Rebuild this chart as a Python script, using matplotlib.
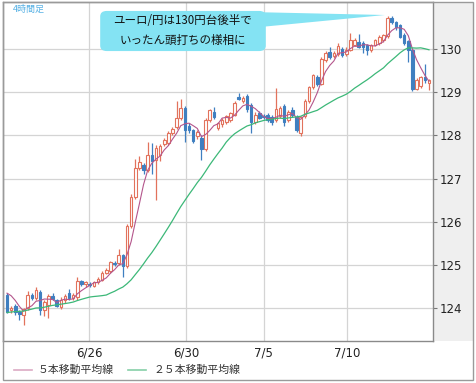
import matplotlib.pyplot as plt
import numpy as np
import pandas as pd
from matplotlib.patches import Rectangle, FancyBboxPatch, Polygon
from matplotlib.lines import Line2D

plt.rcParams['font.family'] = ['Noto Sans CJK JP', 'DejaVu Sans']

# 4-hour candles (open, high, low, close)
opens = [124.30, 123.95, 124.05, 123.90, 123.84, 124.00, 124.30, 124.24, 124.38, 123.95,
         124.08, 124.28, 124.20, 124.02, 124.18, 124.34, 124.24, 124.25, 124.62, 124.55,
         124.56, 124.52, 124.60, 124.66, 124.82, 124.86, 125.05, 125.04, 125.22, 124.98,
         125.90, 126.58, 127.25, 127.32, 127.20, 127.55, 127.42, 127.55, 127.80, 127.82,
         128.05, 128.20, 128.40, 128.63, 128.22, 128.12, 127.98, 127.94, 127.68, 128.36,
         128.55, 128.18, 128.26, 128.30, 128.36, 128.48, 128.90, 128.80, 128.92, 128.70,
         128.32, 128.52, 128.44, 128.47, 128.43, 128.36, 128.44, 128.68, 128.36, 128.60,
         128.43, 128.05, 128.45, 128.80, 129.12, 129.36, 129.20, 129.75, 129.94, 129.84,
         129.88, 130.00, 129.88, 129.98, 130.10, 130.16, 130.14, 130.09, 129.98, 130.10,
         130.14, 130.20, 130.30, 130.72, 130.62, 130.55, 130.32, 130.18, 129.98, 129.08,
         129.15, 129.35, 129.22]
highs = [124.35, 124.05, 124.10, 123.95, 124.00, 124.40, 124.36, 124.48, 124.42, 124.20,
         124.32, 124.34, 124.22, 124.25, 124.32, 124.45, 124.34, 124.72, 124.66, 124.64,
         124.60, 124.64, 124.72, 124.85, 124.92, 125.10, 125.10, 125.38, 125.26, 125.95,
         126.65, 127.45, 127.52, 127.36, 127.85, 127.82, 127.78, 127.80, 127.95, 128.10,
         128.20, 128.80, 128.85, 128.68, 128.28, 128.15, 128.12, 128.00, 128.40, 128.62,
         128.65, 128.30, 128.40, 128.48, 128.55, 128.80, 128.98, 128.92, 128.96, 128.75,
         128.55, 128.56, 128.50, 128.52, 128.48, 129.10, 128.68, 128.72, 128.58, 128.66,
         128.48, 128.46, 128.85, 129.15, 129.42, 129.40, 129.82, 129.95, 130.05, 129.96,
         130.15, 130.04, 130.04, 130.37, 130.26, 130.35, 130.18, 130.12, 130.12, 130.24,
         130.32, 130.36, 130.77, 130.76, 130.66, 130.58, 130.38, 130.22, 130.02, 129.32,
         129.38, 129.65, 129.30]
lows = [123.88, 123.88, 123.85, 123.72, 123.62, 123.95, 124.20, 124.20, 123.85, 123.82,
        123.78, 124.18, 124.02, 123.98, 124.12, 124.20, 124.18, 124.20, 124.52, 124.50,
        124.48, 124.48, 124.55, 124.62, 124.78, 124.82, 124.98, 125.00, 124.72, 124.92,
        125.86, 126.52, 127.20, 127.10, 127.15, 127.10, 126.50, 127.40, 127.75, 127.78,
        128.00, 128.15, 128.35, 127.85, 128.05, 127.82, 127.92, 127.43, 127.64, 128.32,
        128.38, 128.12, 128.20, 128.26, 128.32, 128.45, 128.82, 128.74, 128.55, 128.05,
        128.26, 128.38, 128.38, 128.30, 128.25, 128.32, 128.40, 128.22, 128.32, 128.42,
        128.08, 127.98, 128.40, 128.76, 129.08, 129.15, 129.16, 129.70, 129.78, 129.80,
        129.85, 129.82, 129.84, 129.95, 130.06, 130.02, 129.90, 129.86, 129.94, 130.06,
        130.10, 130.16, 130.26, 130.58, 130.45, 130.25, 130.10, 129.70, 129.03, 129.05,
        129.10, 129.22, 129.05]
closes = [123.92, 124.00, 123.90, 123.86, 123.98, 124.30, 124.24, 124.42, 123.95, 124.15,
          124.28, 124.22, 124.06, 124.20, 124.28, 124.24, 124.30, 124.64, 124.57, 124.60,
          124.53, 124.60, 124.68, 124.82, 124.88, 125.06, 125.02, 125.22, 124.98, 125.90,
          126.58, 127.25, 127.38, 127.20, 127.55, 127.40, 127.72, 127.75, 127.90, 128.05,
          128.15, 128.40, 128.63, 128.12, 128.12, 127.86, 128.08, 127.68, 128.36, 128.60,
          128.42, 128.28, 128.35, 128.44, 128.52, 128.75, 128.85, 128.86, 128.62, 128.30,
          128.48, 128.40, 128.42, 128.36, 128.30, 128.62, 128.63, 128.30, 128.54, 128.47,
          128.12, 128.43, 128.80, 129.12, 129.40, 129.20, 129.78, 129.90, 129.82, 129.92,
          130.08, 129.86, 129.98, 130.22, 130.20, 130.05, 130.05, 129.98, 130.09, 130.20,
          130.28, 130.32, 130.72, 130.62, 130.52, 130.28, 130.15, 129.98, 129.08, 129.28,
          129.35, 129.28, 129.28]
# closes of the bars before the first visible one (needed for the averages)
prior_closes = [123.70, 123.65, 123.75, 123.80, 123.72, 123.68, 123.78, 123.85, 123.80, 123.74,
                123.70, 123.76, 123.82, 123.90, 123.86, 123.80, 123.78, 123.85, 123.92, 123.88,
                124.30, 124.45, 124.55, 124.52]

date_labels = ['6/26', '6/30', '7/5', '7/10']
date_pos = [19.8, 43.3, 62.1, 82.2]
price_ticks = [124, 125, 126, 127, 128, 129, 130]

up_col = '#e2725c'
down_col = '#3f7fc0'
ma5_col = '#b4568c'
ma25_col = '#3cb878'

allc = pd.Series(prior_closes + closes)
ma5 = allc.rolling(5).mean().values[len(prior_closes):]
ma25 = allc.rolling(25).mean().values[len(prior_closes):]

W, H = 476, 383
fig = plt.figure(figsize=(W / 100, H / 100), dpi=100)

def fx(px):
    return px / W

def fy(py):
    return 1 - py / H

# outer frame and right price panel
fig.patches.append(Rectangle((fx(433), fy(341)), fx(473) - fx(433), fy(2) - fy(341),
                             transform=fig.transFigure, facecolor='#efefef', edgecolor='none', zorder=-2))
fig.patches.append(Rectangle((fx(3), fy(380)), fx(473) - fx(3), fy(2) - fy(380),
                             transform=fig.transFigure, facecolor='none', edgecolor='#9a9a9a', lw=1, zorder=5))

ax = fig.add_axes([fx(3), fy(341), fx(433) - fx(3), fy(2) - fy(341)])
ax.set_facecolor('white')

x = np.arange(len(closes))
o = np.array(opens); c = np.array(closes); hi = np.array(highs); lo = np.array(lows)
up = c >= o
cols = np.where(up, up_col, down_col)

ax.vlines(x, lo, hi, colors=cols, lw=0.9, zorder=2)
body_bottom = np.minimum(o, c)
body_h = np.maximum(np.abs(c - o), 0.02)
ax.bar(x[up], body_h[up], bottom=body_bottom[up], width=0.62, facecolor='white',
       edgecolor=up_col, lw=0.8, zorder=3)
ax.bar(x[~up], body_h[~up], bottom=body_bottom[~up], width=0.62, facecolor=down_col,
       edgecolor=down_col, lw=0.8, zorder=3)

ax.plot(x, ma5, color=ma5_col, lw=0.8, zorder=4)
ax.plot(x, ma25, color=ma25_col, lw=0.9, zorder=4)

ax.set_xlim(-0.97, 102.97)
ax.set_ylim(123.24, 131.09)
ax.set_yticks(price_ticks)
ax.yaxis.tick_right()
ax.tick_params(axis='y', length=3, width=0.8, color='#777777', labelsize=8.5,
               labelcolor='#222222', pad=2)
ax.set_xticks(date_pos)
ax.set_xticklabels(date_labels)
ax.tick_params(axis='x', length=0, labelsize=8.5, labelcolor='#222222', pad=4)
for lab in ax.get_xticklabels() + ax.get_yticklabels():
    lab.set_family('DejaVu Sans')
ax.grid(True, color='#d4d4d4', lw=0.9)
ax.set_axisbelow(True)
for s in ax.spines.values():
    s.set_color('#8a8a8a')
    s.set_linewidth(1)

# title label
fig.text(fx(13), fy(9), '4時間足', fontsize=6.5, color='#55b0e4', va='center', ha='left')

# callout
cy = '#84e3f3'
fig.patches.append(Polygon([(fx(250), fy(12)), (fx(385), fy(15)), (fx(250), fy(28))],
                           closed=True, transform=fig.transFigure, facecolor=cy,
                           edgecolor='none', zorder=6))
fig.patches.append(FancyBboxPatch((fx(104), fy(48)), fx(262) - fx(104), fy(14) - fy(48),
                                  boxstyle='round,pad=0.008,rounding_size=0.014',
                                  transform=fig.transFigure, facecolor=cy,
                                  edgecolor='none', zorder=6))
fig.text(fx(183), fy(21), 'ユーロ/円は130円台後半で', fontsize=8.3, color='#111111',
         ha='center', va='center', zorder=7)
fig.text(fx(183), fy(40), 'いったん頭打ちの様相に', fontsize=8.3, color='#111111',
         ha='center', va='center', zorder=7)

# legend
fig.lines.append(Line2D([fx(14), fx(32)], [fy(370), fy(370)], transform=fig.transFigure,
                        color='#dcaac4', lw=1.2))
fig.text(fx(38), fy(370), '５本移動平均線', fontsize=7.8, color='#333333', va='center')
fig.lines.append(Line2D([fx(128), fx(146)], [fy(370), fy(370)], transform=fig.transFigure,
                        color='#86cfa8', lw=1.2))
fig.text(fx(154), fy(370), '２５本移動平均線', fontsize=7.8, color='#333333', va='center')

fig.savefig('out.png', dpi=100)
